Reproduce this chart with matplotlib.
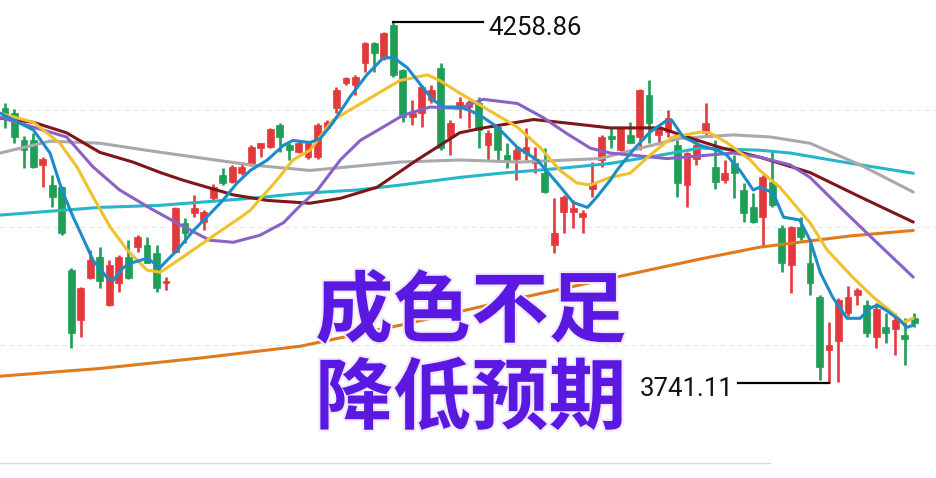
import numpy as np
import matplotlib.pyplot as plt
import matplotlib.patheffects as pe

# daily candles (index 0..96)
opens = [4135, 4128, 4089, 4089, 4054, 4025, 4022, 3903, 3831, 3892,
         3922, 3853, 3884, 3922, 3936, 3939, 3928, 3884, 3929, 3971,
         3985, 3972, 4007, 4039, 4029, 4042, 4054, 4078, 4079, 4111,
         4082, 4072, 4065, 4065, 4107, 4135, 4171, 4168, 4200, 4229,
         4207, 4255, 4190, 4122, 4128, 4147, 4193, 4094, 4135, 4137,
         4143, 4082, 4108, 4068, 4063, 4071, 4057, 4042, 3939, 3986,
         3986, 3979, 4020, 4061, 4095, 4075, 4097, 4094, 4154, 4097,
         4101, 4082, 4025, 4063, 4100, 4051, 4032, 4057, 4018, 3993,
         3979, 4029, 3963, 3910, 3965, 3913, 3864, 3788, 3802, 3841,
         3867, 3853, 3807, 3821, 3819, 3810, 3835]
highs = [4143, 4134, 4095, 4100, 4065, 4039, 4023, 3906, 3879, 3932,
         3936, 3917, 3925, 3946, 3954, 3950, 3939, 3893, 3993, 3978,
         4011, 3989, 4026, 4049, 4054, 4058, 4082, 4086, 4107, 4114,
         4086, 4088, 4088, 4114, 4118, 4165, 4180, 4183, 4230, 4230,
         4244, 4258.86, 4191, 4147, 4168, 4168, 4200, 4118, 4151, 4147,
         4151, 4104, 4111, 4086, 4079, 4107, 4079, 4078, 4007, 4011,
         4003, 3989, 4058, 4097, 4107, 4109, 4115, 4163, 4175, 4111,
         4132, 4089, 4072, 4094, 4143, 4089, 4061, 4068, 4028, 4014,
         4039, 4075, 3968, 3966, 3979, 3942, 3867, 3828, 3863, 3881,
         3877, 3860, 3856, 3842, 3842, 3835, 3842]
lows = [4107, 4086, 4049, 4049, 4022, 3993, 3954, 3792, 3807, 3890,
        3878, 3851, 3871, 3890, 3929, 3913, 3871, 3874, 3928, 3942,
        3979, 3960, 4003, 4025, 4028, 4039, 4052, 4065, 4078, 4072,
        4061, 4071, 4063, 4063, 4104, 4129, 4168, 4154, 4187, 4187,
        4205, 4180, 4115, 4111, 4108, 4143, 4075, 4068, 4121, 4107,
        4078, 4061, 4061, 4049, 4032, 4061, 4043, 4014, 3928, 3956,
        3963, 3957, 4008, 4051, 4078, 4074, 4085, 4075, 4086, 4085,
        4094, 4008, 3993, 4054, 4094, 4020, 4028, 4007, 3972, 3971,
        3936, 3993, 3900, 3870, 3946, 3867, 3745, 3741.11, 3742, 3838,
        3853, 3807, 3792, 3798, 3781, 3767, 3821]
closes = [4123, 4094, 4075, 4051, 4063, 4008, 3956, 3813, 3878, 3917,
          3888, 3910, 3922, 3892, 3950, 3914, 3878, 3888, 3992, 3956,
          3992, 3986, 4022, 4028, 4051, 4051, 4079, 4085, 4105, 4094,
          4075, 4085, 4085, 4111, 4115, 4161, 4178, 4180, 4229, 4214,
          4243, 4183, 4122, 4129, 4165, 4161, 4078, 4114, 4144, 4144,
          4104, 4100, 4075, 4058, 4075, 4079, 4063, 4015, 3956, 4008,
          3992, 3985, 4028, 4094, 4091, 4107, 4086, 4162, 4114, 4108,
          4121, 4028, 4071, 4082, 4114, 4029, 4042, 4042, 3985, 3972,
          4036, 3996, 3913, 3965, 3950, 3884, 3764, 3795, 3860, 3864,
          3874, 3813, 3848, 3813, 3831, 3805, 3827]

# moving average lines (candle index, price)
ma5_x = [-0.5, 3, 4.75, 6, 7.2, 8.2, 9.3, 10.8, 11.4, 12.5, 13.5, 15, 16.4, 17.1, 18.2,
         19.9, 21.3, 23, 24.5, 25.9, 27.7, 29.4, 30.4, 32.2, 33.3, 34.6, 36.4, 38.2,
         39.9, 41, 42.5, 44.1, 45.2, 46.3, 48, 49.1, 50.5, 52, 54.1, 56.2, 58.3, 60,
         61.5, 62.5, 63.9, 64.6, 66.3, 68.1, 69.9, 70.4, 71.6, 73.4, 75.2, 76.2, 77.6,
         79, 79.7, 81.1, 82.2, 83.9, 85, 86.1, 87.4, 88.9, 90.3, 91.3, 92.1, 93.1,
         94.5, 95.2, 95.9]
ma5_y = [4128, 4104, 4071, 4018, 3979, 3950, 3917, 3892, 3888, 3907, 3914, 3920, 3907, 3917, 3932,
         3960, 3979, 4003, 4028, 4046, 4061, 4082, 4089, 4086, 4092, 4114, 4151, 4183,
         4207, 4208, 4193, 4165, 4147, 4137, 4137, 4132, 4122, 4108, 4079, 4061, 4028, 4000,
         3993, 4008, 4032, 4046, 4075, 4101, 4118, 4118, 4094, 4082, 4075, 4068, 4046,
         4018, 4022, 4014, 3979, 3975, 3946, 3899, 3864, 3834, 3834, 3848, 3853, 3845,
         3831, 3821, 3824]
ma10_x = [-0.5, 3, 5.8, 7.6, 9.3, 11.1, 12.9, 15, 16.4, 18.8, 22.4, 24.8, 25.9, 28.7, 30.4,
          32.2, 34.6, 38.2, 41.7, 44.6, 45.9, 48, 50.5, 54.1, 56.5, 58.6, 60.4, 61.8,
          63.9, 66, 68.1, 70.5, 73.4, 74.4, 76.2, 78.7, 79.7, 81.8, 85, 86.8, 89.5,
          91.7, 93.8, 94.8, 95.9]
ma10_y = [4128, 4115, 4085, 4051, 4008, 3965, 3932, 3903, 3900, 3922, 3956, 3978, 3989, 4032, 4061,
          4075, 4118, 4147, 4175, 4183, 4175, 4157, 4137, 4108, 4079, 4046, 4028, 4025,
          4036, 4042, 4068, 4094, 4101, 4100, 4086, 4061, 4046, 4022, 3971, 3932, 3893,
          3864, 3841, 3828, 3834]
ma20_x = [-0.5, 6.5, 9.3, 12.1, 15.3, 18.5, 21.6, 24.1, 26.9, 29.4, 31.2, 33, 35.4, 37.5,
          39.9, 42, 44.9, 48, 50.5, 54.1, 56.8, 59.3, 61.8, 63.9, 69.9, 76.9, 79.7,
          82.9, 85, 88.5, 92.1, 95.9]
ma20_y = [4122, 4094, 4051, 4018, 3992, 3968, 3946, 3943, 3953, 3971, 3996, 4018, 4061, 4089,
          4108, 4125, 4137, 4135, 4148, 4142, 4122, 4099, 4078, 4071, 4063, 4071, 4065,
          4054, 4036, 3989, 3942, 3893]
ma60_x = [-0.5, 3, 6.5, 10, 13.5, 16.4, 18.8, 24.1, 27.7, 32.2, 35.4, 39.3, 43.5, 48, 50.5,
          55.8, 59.3, 63.9, 69.2, 72, 75.5, 79.7, 85, 90.3, 95.9]
ma60_y = [4121, 4115, 4100, 4072, 4058, 4043, 4032, 4011, 4003, 3999, 4006, 4022, 4061, 4100, 4107,
          4119, 4114, 4107, 4107, 4094, 4079, 4065, 4043, 4008, 3972]
ma90_x = [-0.5, 4.75, 10, 16.4, 25.9, 32.2, 41.7, 48, 54.4, 62.8, 67.1, 71.3, 76.9, 80.8,
          85, 90.3, 95.9]
ma90_y = [4071, 4088, 4085, 4072, 4054, 4046, 4058, 4061, 4058, 4063, 4078, 4092, 4097, 4094,
          4085, 4054, 4015]
ma120_x = [-0.5, 10, 16.4, 25.9, 31.2, 37.2, 41.7, 48, 52.3, 58.6, 63.9, 69.2, 73.4, 79.7,
           82.9, 88.5, 95.9]
ma120_y = [3982, 3993, 3996, 4006, 4013, 4018, 4025, 4036, 4042, 4049, 4056, 4068, 4078, 4075,
           4071, 4058, 4042]
ma250_x = [-0.5, 10, 20.6, 31.2, 41.7, 52.3, 62.8, 73.4, 79.7, 89.2, 95.9]
ma250_y = [3751, 3762, 3777, 3794, 3824, 3857, 3888, 3919, 3936, 3952, 3960]

grid_levels = [4132, 3965, 3795]
high_label = "4258.86"
low_label = "3741.11"
title_lines = ["成色不足", "降低预期"]

UP = "#e2393c"
DOWN = "#1f9e57"

fig = plt.figure(figsize=(9.36, 4.78), dpi=100)
ax = fig.add_axes([0, 0, 1, 1])
ax.set_xlim(-0.53, 98.3)
ax.set_ylim(3605, 4290.4)
ax.axis("off")

for lvl in grid_levels:
    ax.axhline(lvl, color="#e3e6ea", lw=0.8, ls=(0, (4, 4)), zorder=0)
ax.plot([-0.53, 80.8], [3626, 3626], color="#dadada", lw=1.0, zorder=0)

# candles
idx = np.arange(len(opens))
for i, o, h, l, c in zip(idx, opens, highs, lows, closes):
    col = UP if c >= o else DOWN
    ax.plot([i, i], [l, h], color=col, lw=1.9, solid_capstyle="butt", zorder=2)
    bottom = min(o, c)
    height = max(abs(c - o), 3)
    ax.add_patch(plt.Rectangle((i - 0.36, bottom), 0.72, height, facecolor=col,
                               edgecolor=col, lw=0.5, zorder=2))

# moving averages
lines = [
    (ma250_x, ma250_y, "#e07b1c"),
    (ma120_x, ma120_y, "#27b6c8"),
    (ma90_x, ma90_y, "#a9a9a9"),
    (ma60_x, ma60_y, "#7d1719"),
    (ma20_x, ma20_y, "#8a62c6"),
    (ma10_x, ma10_y, "#f0c12c"),
    (ma5_x, ma5_y, "#1c8cc8"),
]
for xs, ys, col in lines:
    ax.plot(xs, ys, color=col, lw=2.2, zorder=3, solid_joinstyle="round",
            solid_capstyle="round")

# high / low labels
hi_i = int(np.argmax(highs))
lo_i = int(np.argmin(lows))
ax.plot([hi_i, 50.5], [highs[hi_i], highs[hi_i]], color="black", lw=1.6, zorder=4)
ax.text(51.0, highs[hi_i] - 9, high_label, fontsize=18.5, family="Roboto",
        va="center", ha="left", color="#111111", zorder=5)
ax.plot([77.4, lo_i], [lows[lo_i], lows[lo_i]], color="black", lw=1.6, zorder=4)
ax.text(76.9, lows[lo_i] - 9, low_label, fontsize=18.5, family="Roboto",
        va="center", ha="right", color="#111111", zorder=5)

# big overlay text
for t, yy in zip(title_lines, [0.345, 0.163]):
    ax.text(0.503, yy, t, transform=ax.transAxes, fontsize=56, fontweight="heavy",
            family=["Noto Sans CJK SC", "DejaVu Sans"], color="#5a18e0",
            ha="center", va="center", zorder=6,
            path_effects=[pe.withStroke(linewidth=3, foreground="#efe8ff")])

fig.savefig("out.png", dpi=100, facecolor="white")
